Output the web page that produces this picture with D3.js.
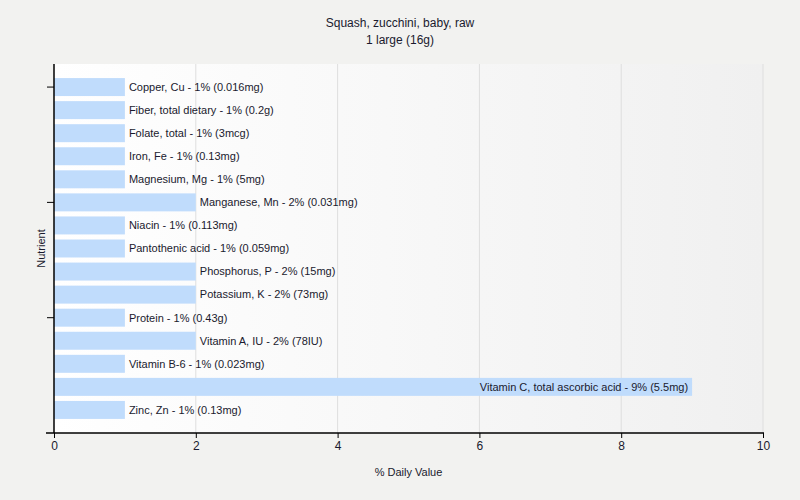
<!DOCTYPE html>
<html>
<head>
<meta charset="utf-8">
<script src="https://cdn.jsdelivr.net/npm/d3@7"></script>
<style>
  body { margin: 0; background: #f2f2f0; }
  text { font-family: "Liberation Sans", Arial, sans-serif; fill: #1a1a2e; }
</style>
</head>
<body>
<div class="chart-container"></div>
<script>
const nutrients = ["Copper, Cu", "Fiber, total dietary", "Folate, total", "Iron, Fe", "Magnesium, Mg",
  "Manganese, Mn", "Niacin", "Pantothenic acid", "Phosphorus, P", "Potassium, K",
  "Protein", "Vitamin A, IU", "Vitamin B-6", "Vitamin C, total ascorbic acid", "Zinc, Zn"]
const values = [1, 1, 1, 1, 1, 2, 1, 1, 2, 2, 1, 2, 1, 9, 1]
const amounts = ["0.016mg", "0.2g", "3mcg", "0.13mg", "5mg", "0.031mg", "0.113mg", "0.059mg",
  "15mg", "73mg", "0.43g", "78IU", "0.023mg", "5.5mg", "0.13mg"]
const xTicks = [0, 2, 4, 6, 8, 10]
const yTickNames = ["Copper, Cu", "Manganese, Mn", "Protein"]

const width = 800
const height = 500
const margin = {left: 54, top: 64, right: 37, bottom: 67}
const chartWidth = width - margin.left - margin.right
const chartHeight = height - margin.top - margin.bottom

const data = nutrients.map((n, i) => ({key: n, value: values[i], amount: amounts[i]}))

const svg = d3.select('.chart-container')
  .append('svg')
    .attr('width', width)
    .attr('height', height)

const defs = svg.append('defs')
const grad = defs.append('linearGradient').attr('id', 'bg').attr('x1', 0).attr('x2', 1).attr('y1', 0).attr('y2', 0)
grad.append('stop').attr('offset', '0%').attr('stop-color', '#ffffff')
grad.append('stop').attr('offset', '100%').attr('stop-color', '#f0f0f0')

svg.append('text')
  .attr('x', width / 2).attr('y', 27)
  .attr('text-anchor', 'middle').style('font-size', '12px')
  .text('Squash, zucchini, baby, raw')
svg.append('text')
  .attr('x', width / 2).attr('y', 44)
  .attr('text-anchor', 'middle').style('font-size', '12px')
  .text('1 large (16g)')

const g = svg.append('g')
  .attr('transform', `translate(${margin.left}, ${margin.top})`)

g.append('rect')
  .attr('width', chartWidth).attr('height', chartHeight)
  .attr('fill', 'url(#bg)')

const xScale = d3.scaleLinear().domain([0, 10]).range([0, chartWidth])
const yScale = d3.scaleBand()
  .domain(nutrients)
  .range([0, chartHeight])
  .paddingInner(0.22)
  .paddingOuter(0.61)

// grid
g.selectAll('.grid').data(xTicks.filter(d => d > 0))
  .enter().append('line')
    .attr('x1', d => xScale(d)).attr('x2', d => xScale(d))
    .attr('y1', 0).attr('y2', chartHeight)
    .attr('stroke', '#dedede')

// bars
g.selectAll('.bar').data(data)
  .enter().append('rect')
    .attr('x', 0)
    .attr('y', d => yScale(d.key))
    .attr('width', d => xScale(d.value))
    .attr('height', yScale.bandwidth())
    .attr('fill', '#c0dcfc')

// labels
g.selectAll('.label').data(data)
  .enter().append('text')
    .attr('x', d => d.value > 5 ? xScale(d.value) - 4 : xScale(d.value) + 4)
    .attr('y', d => yScale(d.key) + yScale.bandwidth() / 2)
    .attr('dy', '0.35em')
    .attr('text-anchor', d => d.value > 5 ? 'end' : 'start')
    .style('font-size', '11px')
    .text(d => `${d.key} - ${d.value}% (${d.amount})`)

// axes
const xAxis = g.append('g')
  .attr('transform', `translate(0, ${chartHeight})`)
  .call(d3.axisBottom(xScale).tickValues(xTicks).tickSize(5).tickPadding(3))
xAxis.select('.domain').remove()
xAxis.append('line').attr('x1', -8).attr('x2', chartWidth + 1).attr('stroke', '#000').attr('stroke-width', 1.5)
xAxis.selectAll('.tick line').attr('stroke', '#000')
xAxis.selectAll('.tick text').style('font-size', '12px').style('fill', '#1a1a2e')

const yAxis = g.append('g')
  .call(d3.axisLeft(yScale).tickValues(yTickNames).tickSize(7).tickFormat(''))
yAxis.select('.domain').remove()
yAxis.append('line').attr('y1', 0).attr('y2', chartHeight).attr('stroke', '#000').attr('stroke-width', 1.5)
yAxis.selectAll('.tick line').attr('stroke', '#000')

svg.append('text')
  .attr('x', margin.left + chartWidth / 2).attr('y', 476)
  .attr('text-anchor', 'middle').style('font-size', '11px')
  .text('% Daily Value')

svg.append('text')
  .attr('transform', `translate(45, ${margin.top + chartHeight / 2}) rotate(-90)`)
  .attr('text-anchor', 'middle').style('font-size', '11px')
  .text('Nutrient')
</script>
</body>
</html>
